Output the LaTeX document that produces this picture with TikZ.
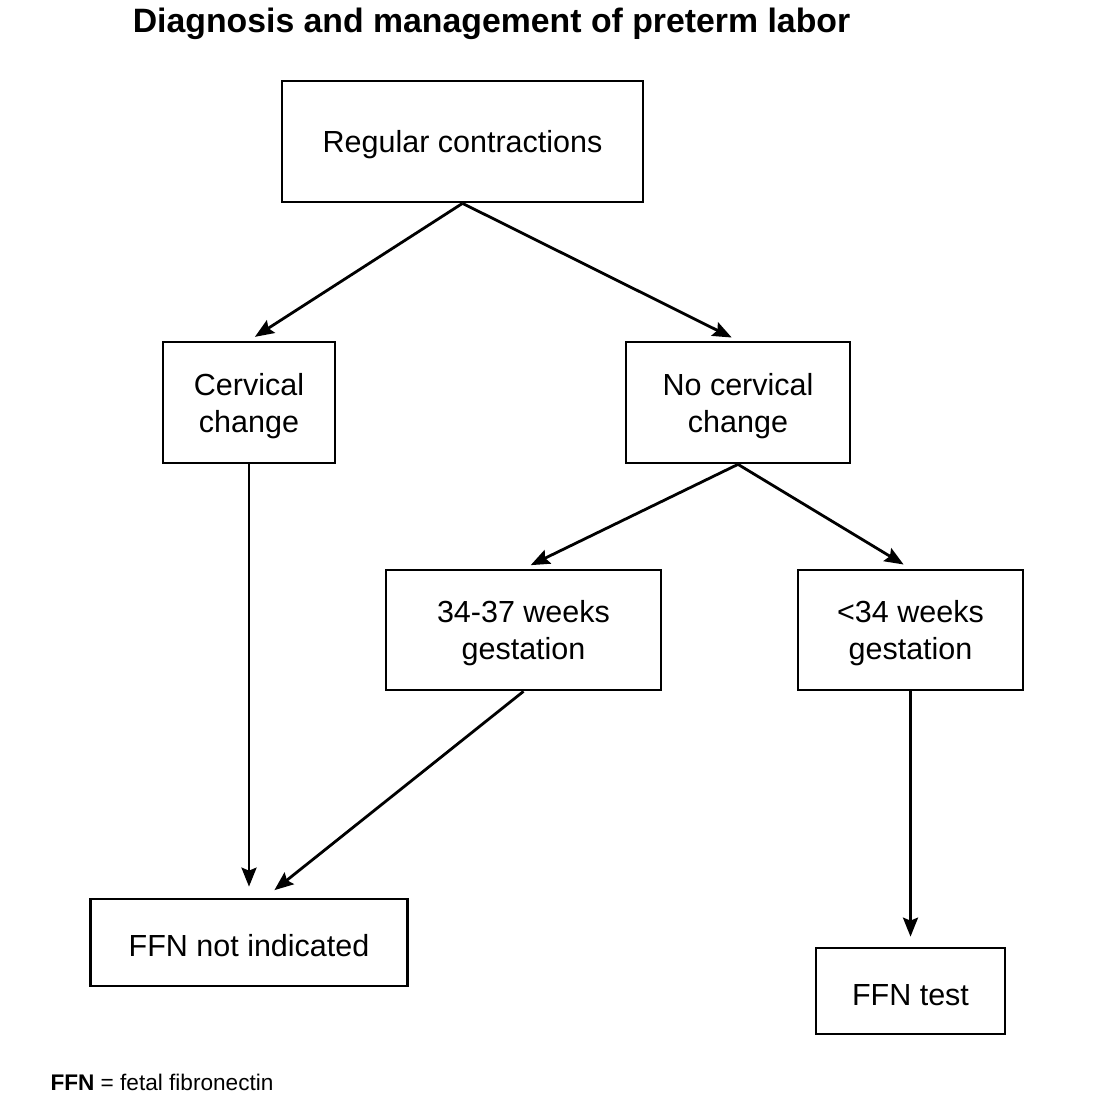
\documentclass[tikz,border=0pt]{standalone}
\usepackage{fontspec}
\setmainfont{Liberation Sans}
\usetikzlibrary{arrows.meta}

\newcommand{\alto}{\rule{0pt}{29pt}}

\begin{document}
\begin{tikzpicture}[x=1pt, y=-1pt,
	box/.style={draw, line width=2.7pt, inner sep=0pt, align=center,
		font=\fontsize{30.5}{37}\selectfont},
	seta/.style={line width=2.8pt, -{Stealth[length=19pt, width=15pt, inset=3pt]}}]
	
	\useasboundingbox (0,0) rectangle (1096,1108);
	
	\node[anchor=base, font=\fontsize{33.8}{40}\selectfont\bfseries] (titulo) at (491.5,33) {Diagnosis and management of preterm labor};
	
	\node[box, minimum width=361pt, minimum height=121pt] (regular) at (462.5,141.5) {\alto Regular contractions};
	\node[box, minimum width=172pt, minimum height=121pt] (cervical) at (249,402.5) {\alto Cervical\\change};
	\node[box, minimum width=224pt, minimum height=121pt] (nocervical) at (738,402.5) {\alto No cervical\\change};
	\node[box, minimum width=275pt, minimum height=120pt] (late) at (523.5,630) {\alto 34-37 weeks\\gestation};
	\node[box, minimum width=225pt, minimum height=120pt] (early) at (910.5,630) {\alto <34 weeks\\gestation};
	\node[box, minimum width=317pt, minimum height=87pt] (notind) at (249,942.5) {\alto FFN not indicated};
	\node[box, minimum width=189pt, minimum height=86pt] (ffntest) at (910.5,991) {\alto FFN test};
	
	\draw[seta, shorten >=7pt] (regular.south) -- (cervical.north);
	\draw[seta, shorten >=7pt] (regular.south) -- (nocervical.north);
	\draw[seta, shorten >=11pt] (cervical.south) -- (notind.north);
	\draw[seta, shorten >=8pt] (nocervical.south) -- (late.north);
	\draw[seta, shorten >=8pt] (nocervical.south) -- (early.north);
	\draw[seta, shorten >=12pt] (late.south) -- ([xshift=16pt]notind.north);
	\draw[seta, shorten >=10pt] (early.south) -- (ffntest.north);
	
	\node[anchor=base west, font=\fontsize{22.6}{27}\selectfont] (nota) at (47,1090) {\textbf{FFN} = fetal fibronectin};

\end{tikzpicture}
\end{document}
